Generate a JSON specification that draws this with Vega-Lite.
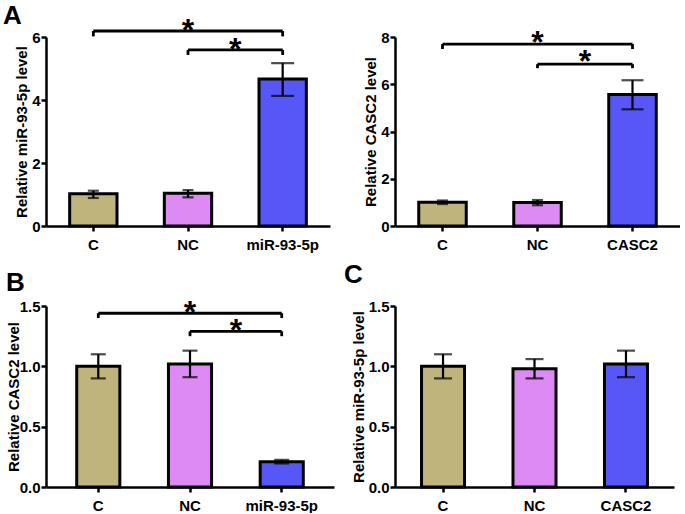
{
"$schema":"https://vega.github.io/schema/vega-lite/v6.json",
"background":"white",
"padding":{"left":3,"top":3,"right":0,"bottom":0},
"config":{"view":{"stroke":null},"font":"Liberation Sans",
 "axis":{"domainColor":"black","domainWidth":2.5,"tickColor":"black","tickWidth":2.5,"tickSize":5,"labelColor":"black","labelFont":"Liberation Sans","labelFontSize":15,"labelFontWeight":"bold","titleFont":"Liberation Sans","titleFontSize":15,"titleFontWeight":"bold","titleColor":"black","grid":false,"labelPadding":1,"titlePadding":2},
 "axisX":{"labelPadding":6,"labelAngle":0},
 "title":{"font":"Liberation Sans","fontSize":26,"fontWeight":"bold","color":"black","anchor":"start","frame":"group"}},
"vconcat":[
{"hconcat":[
 {"width":284,"height":189,"title":{"text":"A","dx":-43,"offset":-14},
  "data":{"values":[{"group":"C","value":1.02,"lo":0.89,"hi":1.12},{"group":"NC","value":1.04,"lo":0.91,"hi":1.14},{"group":"miR-93-5p","value":4.67,"lo":4.13,"hi":5.17}]},
  "layer":[
     {"mark":{"type":"bar","stroke":"black","strokeWidth":3},
      "encoding":{"x":{"field":"group","type":"nominal","scale":{"domain":["C","NC","miR-93-5p"],"paddingInner":0.5,"paddingOuter":0.25},"axis":{"title":null}},
       "y":{"field":"value","type":"quantitative","scale":{"domain":[0,6],"nice":false},"axis":{"title":"Relative miR-93-5p level","values":[0,2,4,6]}},
       "fill":{"condition":[{"test":"datum.group==='C'","value":"#BFB47C"},{"test":"datum.group==='NC'","value":"#DE8AF4"}],"value":"#5757F8"}}},
     {"mark":{"type":"rule","color":"black","strokeWidth":2.2},"encoding":{"x":{"field":"group","type":"nominal"},"y":{"field":"lo","type":"quantitative"},"y2":{"field":"hi"}}},
     {"mark":{"type":"tick","color":"black","thickness":2.2},"encoding":{"x":{"field":"group","type":"nominal"},"y":{"field":"hi","type":"quantitative"},"size":{"condition":{"test":"datum.group==='miR-93-5p'","value":23},"value":11}}},
     {"mark":{"type":"tick","color":"black","thickness":2.2},"encoding":{"x":{"field":"group","type":"nominal"},"y":{"field":"lo","type":"quantitative"},"size":{"condition":{"test":"datum.group==='miR-93-5p'","value":23},"value":11}}},
   {"data":{"values":[{"x1":"C","x2":"miR-93-5p","y1":6.19,"y2":6.19},{"x1":"C","x2":"C","y1":6.19,"y2":6.02},{"x1":"miR-93-5p","x2":"miR-93-5p","y1":6.19,"y2":6.02},{"x1":"NC","x2":"miR-93-5p","y1":5.59,"y2":5.59},{"x1":"NC","x2":"NC","y1":5.59,"y2":5.43},{"x1":"miR-93-5p","x2":"miR-93-5p","y1":5.59,"y2":5.43}]},
    "mark":{"type":"rule","color":"black","strokeWidth":2.8},
    "encoding":{"x":{"field":"x1","type":"nominal"},"x2":{"field":"x2"},"y":{"field":"y1","type":"quantitative"},"y2":{"field":"y2"}}},
   {"data":{"values":[{"sx":"NC","sy":5.86}]},
    "mark":{"type":"text","text":"*","fontSize":32,"fontWeight":"bold","font":"Liberation Sans","baseline":"alphabetic","align":"center","color":"black"},
    "encoding":{"x":{"field":"sx","type":"nominal"},"y":{"field":"sy","type":"quantitative"}}},
   {"data":{"values":[{"sx":"NC","sy":5.26}]},
    "mark":{"type":"text","text":"*","fontSize":32,"fontWeight":"bold","font":"Liberation Sans","baseline":"alphabetic","align":"center","color":"black"},
    "encoding":{"x":{"field":"sx","type":"nominal","bandPosition":1.5},"y":{"field":"sy","type":"quantitative"}}}
  ]},
 {"width":285,"height":189,
  "data":{"values":[{"group":"C","value":1.01,"lo":0.93,"hi":1.08},{"group":"NC","value":1.0,"lo":0.88,"hi":1.1},{"group":"CASC2","value":5.57,"lo":4.94,"hi":6.17}]},
  "layer":[
     {"mark":{"type":"bar","stroke":"black","strokeWidth":3},
      "encoding":{"x":{"field":"group","type":"nominal","scale":{"domain":["C","NC","CASC2"],"paddingInner":0.5,"paddingOuter":0.25},"axis":{"title":null}},
       "y":{"field":"value","type":"quantitative","scale":{"domain":[0,8],"nice":false},"axis":{"title":"Relative CASC2 level","values":[0,2,4,6,8]}},
       "fill":{"condition":[{"test":"datum.group==='C'","value":"#BFB47C"},{"test":"datum.group==='NC'","value":"#DE8AF4"}],"value":"#5757F8"}}},
     {"mark":{"type":"rule","color":"black","strokeWidth":2.2},"encoding":{"x":{"field":"group","type":"nominal"},"y":{"field":"lo","type":"quantitative"},"y2":{"field":"hi"}}},
     {"mark":{"type":"tick","color":"black","thickness":2.2},"encoding":{"x":{"field":"group","type":"nominal"},"y":{"field":"hi","type":"quantitative"},"size":{"condition":{"test":"datum.group==='CASC2'","value":22},"value":11}}},
     {"mark":{"type":"tick","color":"black","thickness":2.2},"encoding":{"x":{"field":"group","type":"nominal"},"y":{"field":"lo","type":"quantitative"},"size":{"condition":{"test":"datum.group==='CASC2'","value":22},"value":11}}},
   {"data":{"values":[{"x1":"C","x2":"CASC2","y1":7.70,"y2":7.70},{"x1":"C","x2":"C","y1":7.70,"y2":7.49},{"x1":"CASC2","x2":"CASC2","y1":7.70,"y2":7.49},{"x1":"NC","x2":"CASC2","y1":6.85,"y2":6.85},{"x1":"NC","x2":"NC","y1":6.85,"y2":6.68},{"x1":"CASC2","x2":"CASC2","y1":6.85,"y2":6.68}]},
    "mark":{"type":"rule","color":"black","strokeWidth":2.8},
    "encoding":{"x":{"field":"x1","type":"nominal"},"x2":{"field":"x2"},"y":{"field":"y1","type":"quantitative"},"y2":{"field":"y2"}}},
   {"data":{"values":[{"sx":"NC","sy":7.31}]},
    "mark":{"type":"text","text":"*","fontSize":32,"fontWeight":"bold","font":"Liberation Sans","baseline":"alphabetic","align":"center","color":"black"},
    "encoding":{"x":{"field":"sx","type":"nominal"},"y":{"field":"sy","type":"quantitative"}}},
   {"data":{"values":[{"sx":"NC","sy":6.53}]},
    "mark":{"type":"text","text":"*","fontSize":32,"fontWeight":"bold","font":"Liberation Sans","baseline":"alphabetic","align":"center","color":"black"},
    "encoding":{"x":{"field":"sx","type":"nominal","bandPosition":1.5},"y":{"field":"sy","type":"quantitative"}}}
  ]}
 ],"bounds":"flush","spacing":65},
{"hconcat":[
 {"width":288,"height":181,"title":{"text":"B","dx":-40,"offset":1},
  "data":{"values":[{"group":"C","value":1.0,"lo":0.9,"hi":1.1},{"group":"NC","value":1.02,"lo":0.91,"hi":1.13},{"group":"miR-93-5p","value":0.21,"lo":0.195,"hi":0.225}]},
  "layer":[
     {"mark":{"type":"bar","stroke":"black","strokeWidth":3},
      "encoding":{"x":{"field":"group","type":"nominal","scale":{"domain":["C","NC","miR-93-5p"],"paddingInner":0.53,"paddingOuter":0.335},"axis":{"title":null}},
       "y":{"field":"value","type":"quantitative","scale":{"domain":[0,1.5],"nice":false},"axis":{"title":"Relative CASC2 level","values":[0,0.5,1,1.5],"format":".1f","titlePadding":-2}},
       "fill":{"condition":[{"test":"datum.group==='C'","value":"#BFB47C"},{"test":"datum.group==='NC'","value":"#DE8AF4"}],"value":"#5757F8"}}},
     {"mark":{"type":"rule","color":"black","strokeWidth":2.2},"encoding":{"x":{"field":"group","type":"nominal"},"y":{"field":"lo","type":"quantitative"},"y2":{"field":"hi"}}},
     {"mark":{"type":"tick","color":"black","thickness":2.2,"size":15},"encoding":{"x":{"field":"group","type":"nominal"},"y":{"field":"hi","type":"quantitative"}}},
     {"mark":{"type":"tick","color":"black","thickness":2.2,"size":15},"encoding":{"x":{"field":"group","type":"nominal"},"y":{"field":"lo","type":"quantitative"}}},
   {"data":{"values":[{"x1":"C","x2":"miR-93-5p","y1":1.44,"y2":1.44},{"x1":"C","x2":"C","y1":1.44,"y2":1.40},{"x1":"miR-93-5p","x2":"miR-93-5p","y1":1.44,"y2":1.40},{"x1":"NC","x2":"miR-93-5p","y1":1.29,"y2":1.29},{"x1":"NC","x2":"NC","y1":1.29,"y2":1.25},{"x1":"miR-93-5p","x2":"miR-93-5p","y1":1.29,"y2":1.25}]},
    "mark":{"type":"rule","color":"black","strokeWidth":2.8},
    "encoding":{"x":{"field":"x1","type":"nominal"},"x2":{"field":"x2"},"y":{"field":"y1","type":"quantitative"},"y2":{"field":"y2"}}},
   {"data":{"values":[{"sx":"NC","sy":1.355}]},
    "mark":{"type":"text","text":"*","fontSize":32,"fontWeight":"bold","font":"Liberation Sans","baseline":"alphabetic","align":"center","color":"black"},
    "encoding":{"x":{"field":"sx","type":"nominal"},"y":{"field":"sy","type":"quantitative"}}},
   {"data":{"values":[{"sx":"NC","sy":1.21}]},
    "mark":{"type":"text","text":"*","fontSize":32,"fontWeight":"bold","font":"Liberation Sans","baseline":"alphabetic","align":"center","color":"black"},
    "encoding":{"x":{"field":"sx","type":"nominal","bandPosition":1.564},"y":{"field":"sy","type":"quantitative"}}}
  ]},
 {"width":279,"height":181,"title":{"text":"C","dx":-51,"offset":11},
  "data":{"values":[{"group":"C","value":1.0,"lo":0.9,"hi":1.1},{"group":"NC","value":0.98,"lo":0.9,"hi":1.06},{"group":"CASC2","value":1.02,"lo":0.91,"hi":1.13}]},
  "layer":[
     {"mark":{"type":"bar","stroke":"black","strokeWidth":3},
      "encoding":{"x":{"field":"group","type":"nominal","scale":{"domain":["C","NC","CASC2"],"paddingInner":0.53,"paddingOuter":0.29},"axis":{"title":null}},
       "y":{"field":"value","type":"quantitative","scale":{"domain":[0,1.5],"nice":false},"axis":{"title":"Relative miR-93-5p level","values":[0,0.5,1,1.5],"format":".1f"}},
       "fill":{"condition":[{"test":"datum.group==='C'","value":"#BFB47C"},{"test":"datum.group==='NC'","value":"#DE8AF4"}],"value":"#5757F8"}}},
     {"mark":{"type":"rule","color":"black","strokeWidth":2.2},"encoding":{"x":{"field":"group","type":"nominal"},"y":{"field":"lo","type":"quantitative"},"y2":{"field":"hi"}}},
     {"mark":{"type":"tick","color":"black","thickness":2.2,"size":18},"encoding":{"x":{"field":"group","type":"nominal"},"y":{"field":"hi","type":"quantitative"}}},
     {"mark":{"type":"tick","color":"black","thickness":2.2,"size":18},"encoding":{"x":{"field":"group","type":"nominal"},"y":{"field":"lo","type":"quantitative"}}}
  ]}
 ],"bounds":"flush","spacing":61}
],
"align":"none","spacing":10,
"resolve":{"scale":{"x":"independent","y":"independent"}}
}
